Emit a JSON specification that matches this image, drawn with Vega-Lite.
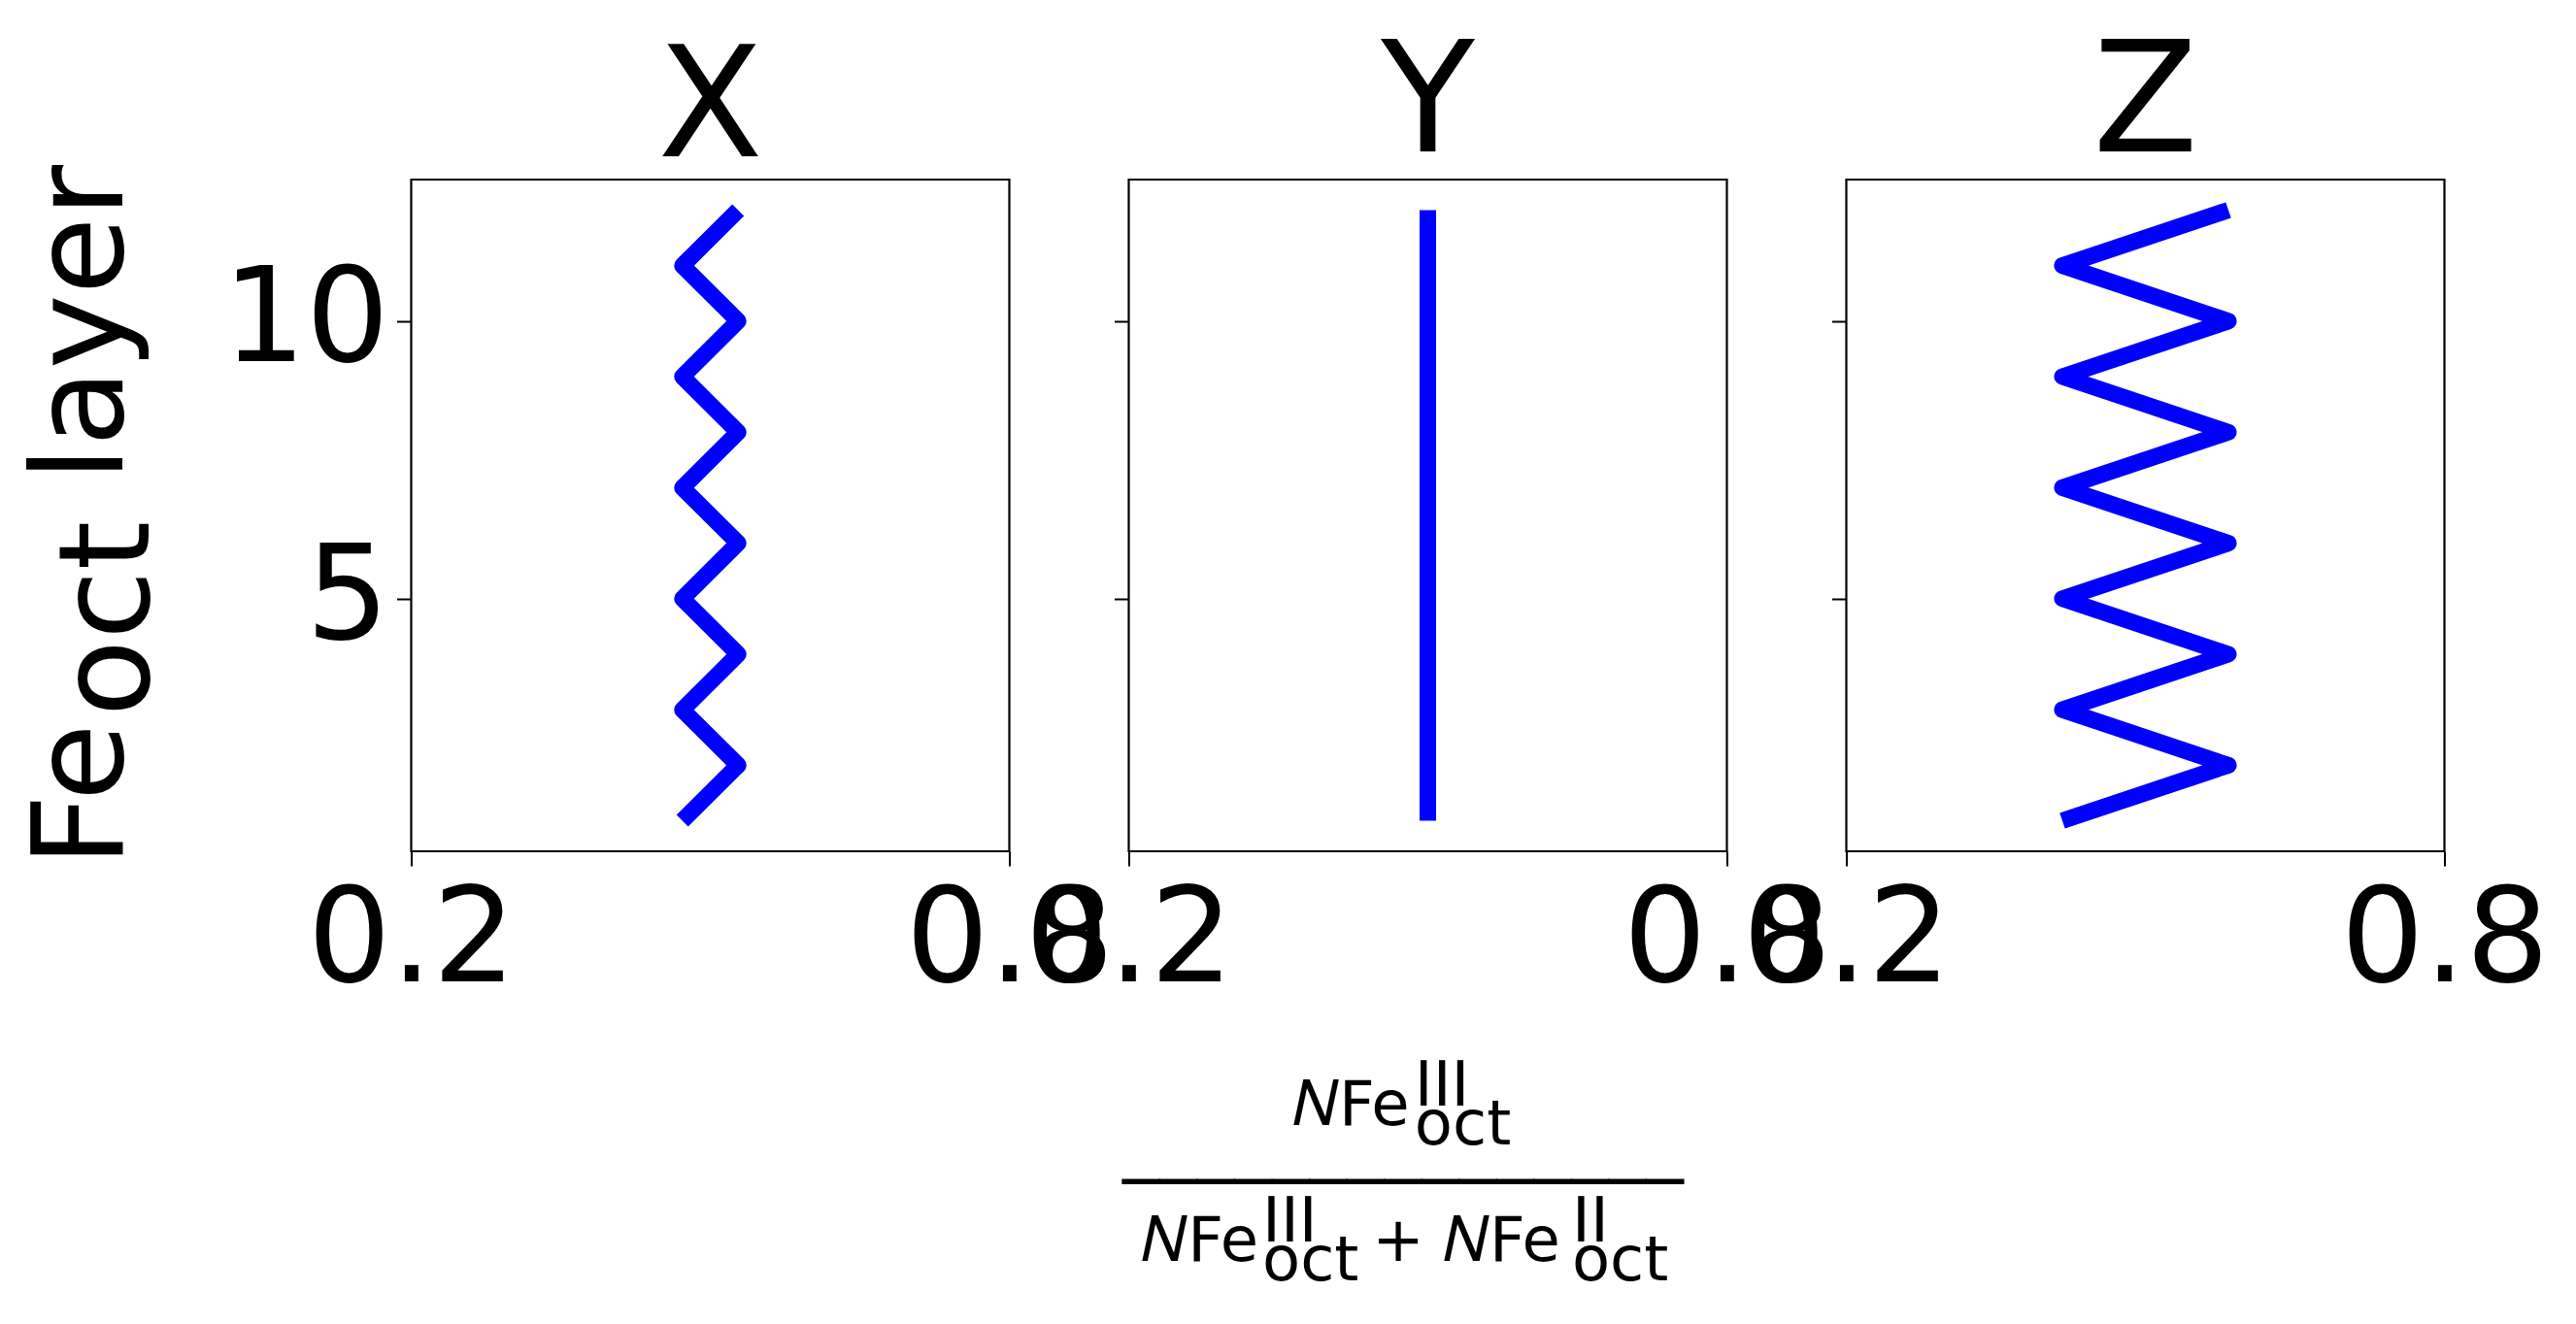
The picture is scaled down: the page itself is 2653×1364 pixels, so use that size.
{
  "$schema": "https://vega.github.io/schema/vega-lite/v6.json",
  "background": "white",
  "padding": {"left": 20.5, "top": 28, "right": 0, "bottom": 0},
  "config": {
    "font": "DejaVu Sans",
    "view": {"stroke": "#000000", "strokeWidth": 2.2},
    "axis": {
      "grid": false, "domain": false,
      "tickColor": "#000000", "tickWidth": 2, "tickSize": 15,
      "labelColor": "#000000", "titleColor": "#000000",
      "labelFont": "DejaVu Sans", "titleFont": "DejaVu Sans",
      "titleFontWeight": "normal", "labelFontSize": 135, "labelLimit": 0, "titleLimit": 0
    },
    "title": {"font": "DejaVu Sans", "fontSize": 158, "fontWeight": "normal", "color": "#000000", "anchor": "middle", "frame": "group", "baseline": "alphabetic", "offset": -3.5}
  },
  "data": {"values": [
    {"panel": "X", "layer": 1, "frac": 0.472}, {"panel": "X", "layer": 2, "frac": 0.528},
    {"panel": "X", "layer": 3, "frac": 0.472}, {"panel": "X", "layer": 4, "frac": 0.528},
    {"panel": "X", "layer": 5, "frac": 0.472}, {"panel": "X", "layer": 6, "frac": 0.528},
    {"panel": "X", "layer": 7, "frac": 0.472}, {"panel": "X", "layer": 8, "frac": 0.528},
    {"panel": "X", "layer": 9, "frac": 0.472}, {"panel": "X", "layer": 10, "frac": 0.528},
    {"panel": "X", "layer": 11, "frac": 0.472}, {"panel": "X", "layer": 12, "frac": 0.528},
    {"panel": "Y", "layer": 1, "frac": 0.5}, {"panel": "Y", "layer": 2, "frac": 0.5},
    {"panel": "Y", "layer": 3, "frac": 0.5}, {"panel": "Y", "layer": 4, "frac": 0.5},
    {"panel": "Y", "layer": 5, "frac": 0.5}, {"panel": "Y", "layer": 6, "frac": 0.5},
    {"panel": "Y", "layer": 7, "frac": 0.5}, {"panel": "Y", "layer": 8, "frac": 0.5},
    {"panel": "Y", "layer": 9, "frac": 0.5}, {"panel": "Y", "layer": 10, "frac": 0.5},
    {"panel": "Y", "layer": 11, "frac": 0.5}, {"panel": "Y", "layer": 12, "frac": 0.5},
    {"panel": "Z", "layer": 1, "frac": 0.4167}, {"panel": "Z", "layer": 2, "frac": 0.5833},
    {"panel": "Z", "layer": 3, "frac": 0.4167}, {"panel": "Z", "layer": 4, "frac": 0.5833},
    {"panel": "Z", "layer": 5, "frac": 0.4167}, {"panel": "Z", "layer": 6, "frac": 0.5833},
    {"panel": "Z", "layer": 7, "frac": 0.4167}, {"panel": "Z", "layer": 8, "frac": 0.5833},
    {"panel": "Z", "layer": 9, "frac": 0.4167}, {"panel": "Z", "layer": 10, "frac": 0.5833},
    {"panel": "Z", "layer": 11, "frac": 0.4167}, {"panel": "Z", "layer": 12, "frac": 0.5833}
  ]},
  "spacing": 123,
  "bounds": "flush",
  "hconcat": [
    {
      "width": 616, "height": 692,
      "title": {"text": "X", "offset": -26},
      "transform": [{"filter": "datum.panel === 'X'"}],
      "mark": {"type": "line", "color": "#0000ff", "strokeWidth": 17, "strokeCap": "butt", "strokeJoin": "round"},
      "encoding": {
        "x": {"field": "frac", "type": "quantitative",
          "scale": {"domain": [0.2, 0.8], "nice": false, "zero": false},
          "axis": {"values": [0.2, 0.8], "format": ".1f", "labelPadding": 11, "labelOverlap": false, "labelFlush": false, "labelBound": false, "title": null}},
        "y": {"field": "layer", "type": "quantitative",
          "scale": {"domain": [0.45, 12.55], "nice": false, "zero": false},
          "axis": {"values": [5, 10], "labelPadding": 8,
            "title": ["Fe\u2003\u2002\u200a layer", "\u200b\u2003\u2009oct\u2003\u2003\u2002\u2004\u200b"],
            "titleFontSize": 130, "titleLineHeight": 27, "titlePadding": 49}},
        "order": {"field": "layer", "type": "quantitative"}
      }
    },
    {
      "width": 616, "height": 692,
      "title": {"text": "Y"},
      "transform": [{"filter": "datum.panel === 'Y'"}],
      "mark": {"type": "line", "color": "#0000ff", "strokeWidth": 17, "strokeCap": "butt", "strokeJoin": "round"},
      "encoding": {
        "x": {"field": "frac", "type": "quantitative",
          "scale": {"domain": [0.2, 0.8], "nice": false, "zero": false},
          "axis": {"values": [0.2, 0.8], "format": ".1f", "labelPadding": 11, "labelOverlap": false, "labelFlush": false, "labelBound": false,
            "title": [
              "\u200b\u2003\u2003\u2003\u2003\u2002\u2009III",
              "\u200b\u2003\u2003\u2002\u2005𝑁Fe",
              "\u200b\u2003\u2003\u2003\u2003\u2002\u2009oct",
              "\u200b",
              "\u200b",
              "───────────────",
              "\u200b",
              "\u200b\u2003\u2003\u2005III\u2003\u2003\u2003\u2003\u200aII",
              "\u200b\u00a0𝑁Fe\u2003\u2002\u2004+\u00a0𝑁Fe",
              "\u200b\u2003\u2003\u2005oct\u2003\u2003\u2003\u2004\u200aoct"
            ],
            "titleFontSize": 64, "titleLineHeight": 20, "titleX": -7, "titleY": 210, "titleBaseline": "top", "titleAlign": "left"}},
        "y": {"field": "layer", "type": "quantitative",
          "scale": {"domain": [0.45, 12.55], "nice": false, "zero": false},
          "axis": {"values": [5, 10], "labels": false, "title": null}},
        "order": {"field": "layer", "type": "quantitative"}
      }
    },
    {
      "width": 616, "height": 692,
      "title": {"text": "Z"},
      "transform": [{"filter": "datum.panel === 'Z'"}],
      "mark": {"type": "line", "color": "#0000ff", "strokeWidth": 17, "strokeCap": "butt", "strokeJoin": "round"},
      "encoding": {
        "x": {"field": "frac", "type": "quantitative",
          "scale": {"domain": [0.2, 0.8], "nice": false, "zero": false},
          "axis": {"values": [0.2, 0.8], "format": ".1f", "labelPadding": 11, "labelOverlap": false, "labelFlush": false, "labelBound": false, "title": null}},
        "y": {"field": "layer", "type": "quantitative",
          "scale": {"domain": [0.45, 12.55], "nice": false, "zero": false},
          "axis": {"values": [5, 10], "labels": false, "title": null}},
        "order": {"field": "layer", "type": "quantitative"}
      }
    }
  ]
}
